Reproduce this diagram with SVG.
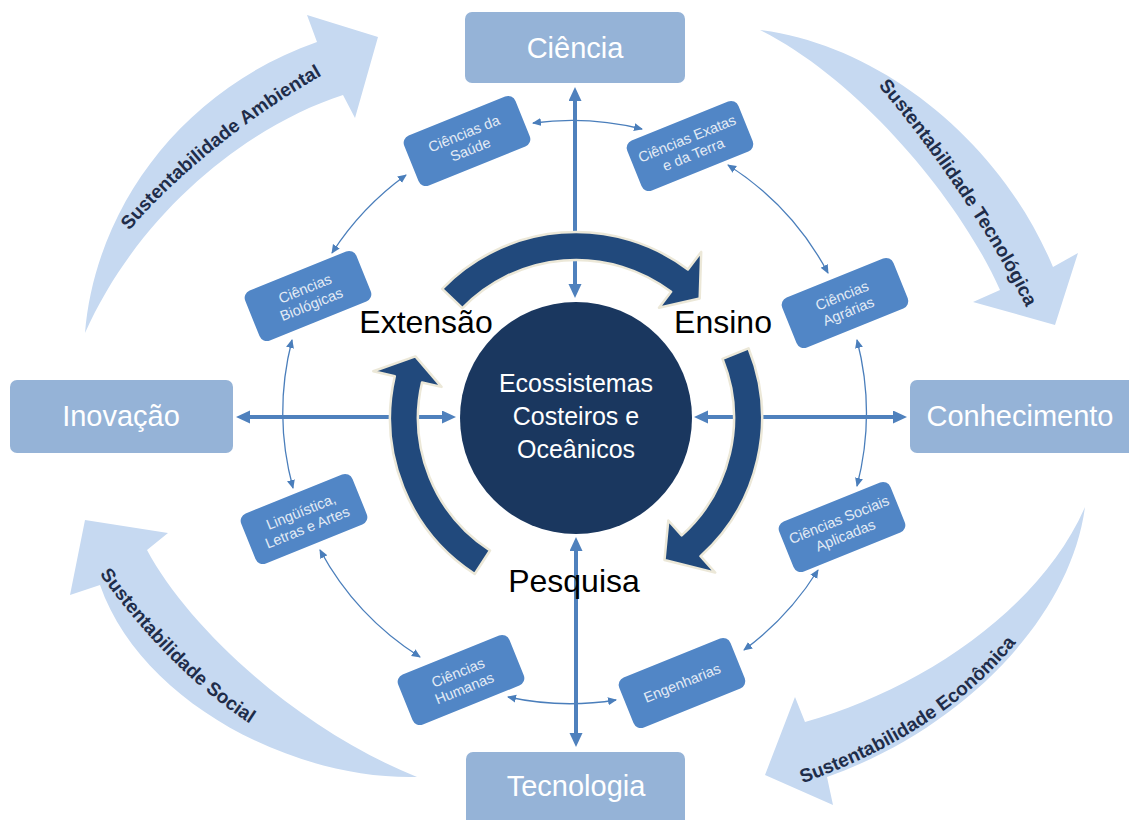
<svg xmlns="http://www.w3.org/2000/svg" width="1129" height="820" viewBox="0 0 1129 820">
<style>
.sus{fill:#C6D9F1}
.sustxt{font-family:"Liberation Sans",Arial,sans-serif;font-weight:bold;font-size:19px;fill:#1F2D4A}
.big rect{fill:#95B3D7}
.big text{font-family:"Liberation Sans",Arial,sans-serif;font-size:29px;fill:#FFFFFF;text-anchor:middle}
.sm rect{fill:#5186C6}
.sm text{font-family:"Liberation Sans",Arial,sans-serif;font-size:14.5px;fill:#E3EBF5;text-anchor:middle}
.thick{stroke:#4F81BD;stroke-width:4;fill:none;marker-start:url(#ah);marker-end:url(#ah)}
.thin{stroke:#4A7EBB;stroke-width:1.3;fill:none;marker-start:url(#as);marker-end:url(#as)}
.cyc{fill:#21497C;stroke:#ECE8D8;stroke-width:2.5;stroke-linejoin:round}
.lbl{font-family:"Liberation Sans",Arial,sans-serif;font-size:32px;fill:#000000;text-anchor:middle}
.ctr{font-family:"Liberation Sans",Arial,sans-serif;font-size:25px;fill:#FFFFFF;text-anchor:middle}
</style>
<defs>
<marker id="ah" markerUnits="userSpaceOnUse" markerWidth="16" markerHeight="14" refX="6" refY="6.5" orient="auto-start-reverse">
<path d="M0,0 L14,6.5 L0,13 Z" fill="#4F81BD"/>
</marker>
<marker id="as" markerUnits="userSpaceOnUse" markerWidth="10" markerHeight="9" refX="8" refY="4" orient="auto-start-reverse">
<path d="M0,0 L9,4 L0,8 Z" fill="#4A7EBB"/>
</marker>
<path id="tp1" d="M125,236 C170,180 250,115 328,72"/>
<path id="tp2" d="M880,88 C925,140 985,225 1025,305"/>
<path id="tp3" d="M797,785 C870,760 960,715 1020,638"/>
<path id="tp4" d="M98,572 C140,630 190,685 252,725"/>
</defs>
<rect width="1129" height="820" fill="#FFFFFF"/>

<g id="sustentabilidade-ambiental">
<path class="sus" d="M85,333 C95,210 180,90 317,42 L307,15 L378,37 L355,118 L343,95 C250,125 140,210 85,333 Z"/>
<text class="sustxt"><textPath href="#tp1" startOffset="50%" text-anchor="middle">Sustentabilidade Ambiental</textPath></text>
</g>
<g id="sustentabilidade-tecnologica">
<path class="sus" d="M760,30 C880,45 1000,140 1053,267 L1078,253 L1055,325 L973,302 L1000,290 C960,200 860,80 760,30 Z"/>
<text class="sustxt"><textPath href="#tp2" startOffset="50%" text-anchor="middle">Sustentabilidade Tecnológica</textPath></text>
</g>
<g id="sustentabilidade-economica">
<path class="sus" d="M1085,507 C1070,620 960,730 827,777 L833,805 L765,775 L795,697 L805,722 C920,690 1040,610 1085,507 Z"/>
<text class="sustxt"><textPath href="#tp3" startOffset="50%" text-anchor="middle">Sustentabilidade Econômica</textPath></text>
</g>
<g id="sustentabilidade-social">
<path class="sus" d="M417,777 C290,780 140,700 100,585 L70,595 L85,520 L168,533 L147,550 C190,630 300,730 417,777 Z"/>
<text class="sustxt"><textPath href="#tp4" startOffset="50%" text-anchor="middle">Sustentabilidade Social</textPath></text>
</g>

<g id="connectors">
<path class="thin" d="M533,123 A290,290 0 0 1 642,129"/>
<path class="thin" d="M728,165 A290,290 0 0 1 828,273"/>
<path class="thin" d="M857,340 A290,290 0 0 1 857,486"/>
<path class="thin" d="M818,570 A290,290 0 0 1 744,650"/>
<path class="thin" d="M616,700 A290,290 0 0 1 508,697"/>
<path class="thin" d="M420,657 A290,290 0 0 1 320,550"/>
<path class="thin" d="M293,488 A290,290 0 0 1 292,340"/>
<path class="thin" d="M332,253 A290,290 0 0 1 406,175"/>
<line class="thick" x1="575" y1="290" x2="575" y2="95"/>
<line class="thick" x1="576" y1="545" x2="576" y2="739"/>
<line class="thick" x1="448" y1="417" x2="244" y2="417"/>
<line class="thick" x1="702" y1="417" x2="899" y2="417"/>
</g>

<g id="ciclo">
<path class="cyc" d="M442.2,288.8 A186,186 0 0 1 687.9,269.5 L701.2,251.9 L699.7,298.5 L659,307.8 L671.1,291.8 A158,158 0 0 0 462.4,308.2 Z"/>
<path class="cyc" d="M748.5,348.3 A186,186 0 0 1 700.5,556.2 L715.2,572.6 L664.5,560 L668.3,520.5 L681.7,535.4 A158,158 0 0 0 722.5,358.8 Z"/>
<path class="cyc" d="M474.7,574 A186,186 0 0 1 394.8,376.2 L373.3,371.2 L415.4,356.4 L441.5,386.9 L422,382.5 A158,158 0 0 0 490,550.5 Z"/>
</g>

<g id="centro">
<circle cx="576" cy="418" r="116" fill="#1A375F"/>
<text class="ctr" x="576" y="392">Ecossistemas</text>
<text class="ctr" x="576" y="425">Costeiros e</text>
<text class="ctr" x="576" y="458">Oceânicos</text>
</g>

<g id="extensao"><text class="lbl" x="426" y="333">Extensão</text></g>
<g id="ensino"><text class="lbl" x="723" y="333">Ensino</text></g>
<g id="pesquisa"><text class="lbl" x="574" y="592">Pesquisa</text></g>

<g id="ciencia" class="big"><rect x="465" y="12" width="220" height="71" rx="7"/><text x="575" y="58">Ciência</text></g>
<g id="inovacao" class="big"><rect x="10" y="380" width="223" height="73" rx="7"/><text x="121" y="426">Inovação</text></g>
<g id="conhecimento" class="big"><rect x="910" y="380" width="230" height="73" rx="7"/><text x="1020" y="426">Conhecimento</text></g>
<g id="tecnologia" class="big"><rect x="466" y="752" width="219" height="80" rx="7"/><text x="576" y="796">Tecnologia</text></g>

<g id="saude" class="sm" transform="translate(467,141) rotate(-22)"><rect x="-60" y="-27" width="120" height="54" rx="8"/><text y="-3">Ciências da</text><text y="14">Saúde</text></g>
<g id="exatas" class="sm" transform="translate(690,146) rotate(-22)"><rect x="-60" y="-27" width="120" height="54" rx="8"/><text y="-3">Ciências Exatas</text><text y="14">e da Terra</text></g>
<g id="biologicas" class="sm" transform="translate(308,296) rotate(-22)"><rect x="-60" y="-27" width="120" height="54" rx="8"/><text y="-3">Ciências</text><text y="14">Biológicas</text></g>
<g id="agrarias" class="sm" transform="translate(845,303) rotate(-22)"><rect x="-60" y="-27" width="120" height="54" rx="8"/><text y="-3">Ciências</text><text y="14">Agrárias</text></g>
<g id="linguistica" class="sm" transform="translate(304,519) rotate(-22)"><rect x="-60" y="-27" width="120" height="54" rx="8"/><text y="-3">Lingüística,</text><text y="14">Letras e Artes</text></g>
<g id="sociais" class="sm" transform="translate(842,527) rotate(-22)"><rect x="-60" y="-27" width="120" height="54" rx="8"/><text y="-3">Ciências Sociais</text><text y="14">Aplicadas</text></g>
<g id="humanas" class="sm" transform="translate(461,680) rotate(-22)"><rect x="-60" y="-27" width="120" height="54" rx="8"/><text y="-3">Ciências</text><text y="14">Humanas</text></g>
<g id="engenharias" class="sm" transform="translate(682,683) rotate(-22)"><rect x="-60" y="-27" width="120" height="54" rx="8"/><text y="5">Engenharias</text></g>
</svg>
